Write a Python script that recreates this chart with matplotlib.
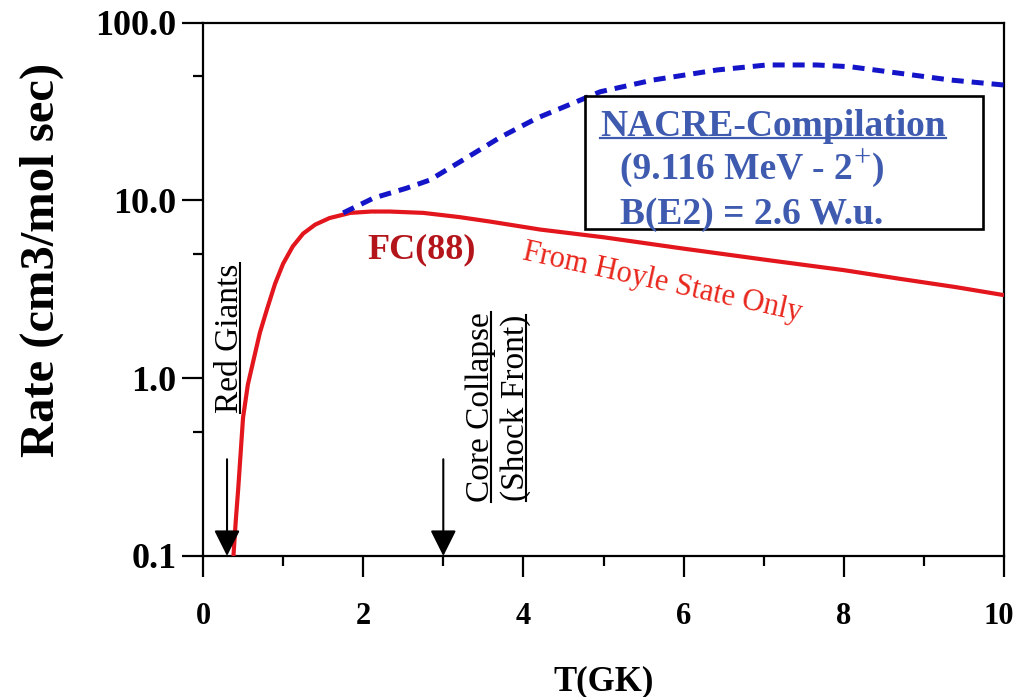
import matplotlib
matplotlib.use("Agg")
import matplotlib.pyplot as plt
import matplotlib.transforms as mtransforms
from matplotlib.patches import Rectangle
from matplotlib.lines import Line2D

plt.rcParams["font.family"] = ["Liberation Serif", "DejaVu Serif"]

# Triple-alpha reaction rate vs temperature
T_fc88 = [0.38, 0.41, 0.44, 0.47, 0.50, 0.56, 0.63, 0.71, 0.80, 0.90, 1.00, 1.12,
          1.25, 1.40, 1.58, 1.84, 2.10, 2.33, 2.75, 3.20, 3.58, 4.21, 5.00, 6.00,
          7.04, 8.00, 8.70, 9.40, 10.0]
rate_fc88 = [0.10, 0.16, 0.24, 0.38, 0.60, 0.92, 1.26, 1.80, 2.45, 3.40, 4.40, 5.50,
             6.50, 7.30, 7.95, 8.50, 8.65, 8.65, 8.50, 8.05, 7.60, 6.85, 6.20, 5.35,
             4.62, 4.05, 3.62, 3.25, 2.93]

T_nacre = [1.75, 2.13, 2.54, 2.83, 3.25, 3.71, 4.17, 4.71, 4.96, 5.62, 6.42, 7.04,
           7.66, 8.08, 8.70, 9.33, 10.0]
rate_nacre = [8.5, 10.3, 11.7, 13.0, 16.9, 22.6, 29.0, 36.6, 40.8, 47.5, 54.1, 57.7,
              57.7, 56.4, 51.8, 47.5, 44.5]

x_ticks = [0, 2, 4, 6, 8, 10]
x_minor = [1, 3, 5, 7, 9]
y_ticks = [0.1, 1.0, 10.0, 100.0]
y_tick_labels = ["0.1", "1.0", "10.0", "100.0"]
y_minor = [0.5, 5, 50]

T_red_giants = 0.3
T_core_collapse = 3.0
arrow_top = 0.35

W, H = 1016, 697
fig = plt.figure(figsize=(W / 100, H / 100), dpi=100)
ax = fig.add_axes([203 / W, 1 - 556 / H, 801 / W, 533.5 / H])


def px(x, y):
    """Figure-pixel position (origin top-left) to figure fraction."""
    return x / W, 1 - y / H


ax.set_yscale("log")
ax.set_xlim(0, 10)
ax.set_ylim(0.1, 100)

ax.plot(T_fc88, rate_fc88, color="#e3161d", lw=3.0, solid_capstyle="butt", zorder=3)
ax.plot(T_nacre, rate_nacre, color="#1414c8", lw=3.6, dashes=(2.4, 1.6),
        dash_capstyle="butt", zorder=4)

for s in ax.spines.values():
    s.set_linewidth(1.6)
ax.set_xticks(x_ticks)
ax.set_xticks(x_minor, minor=True)
ax.set_yticks(y_ticks)
ax.set_yticklabels(y_tick_labels)
ax.set_yticks(y_minor, minor=True)
ax.yaxis.set_minor_formatter(plt.NullFormatter())
ax.tick_params(which="major", direction="out", length=15, width=1.6)
ax.tick_params(which="minor", direction="out", length=7, width=1.6)
ax.tick_params(axis="y", which="major", pad=4)
ax.tick_params(axis="x", which="major", pad=18)
for lab in ax.get_yticklabels():
    lab.set_fontsize(26)
    lab.set_fontweight("bold")
for lab in ax.get_xticklabels():
    lab.set_fontsize(22)
    lab.set_fontweight("bold")
# keep the last x label inside the figure edge
last = ax.get_xticklabels()[-1]
last.set_transform(last.get_transform() +
                   mtransforms.ScaledTranslation(-5 / 100, 0, fig.dpi_scale_trans))

ax.set_xlabel("T(GK)", fontsize=25, fontweight="bold")
ax.xaxis.set_label_coords(0.5, -0.204)
ax.set_ylabel("Rate (cm3/mol sec)", fontsize=35, fontweight="bold")
ax.yaxis.set_label_coords(-0.1735, 0.555)

# Markers for the astrophysical sites
for t in (T_red_giants, T_core_collapse):
    ax.annotate("", xy=(t, 0.1), xytext=(t, arrow_top),
                arrowprops=dict(arrowstyle="-|>,head_length=0.8,head_width=0.4",
                                mutation_scale=20, color="black", lw=1.5,
                                shrinkA=0, shrinkB=0),
                zorder=5)

site_labels = []
site_labels.append(fig.text(*px(238, 338), "Red Giants", fontsize=24, rotation=90,
                            rotation_mode="anchor", ha="center", va="baseline"))
site_labels.append(fig.text(*px(489, 407), "Core Collapse", fontsize=24, rotation=90,
                            rotation_mode="anchor", ha="center", va="baseline"))
site_labels.append(fig.text(*px(524, 408), "(Shock Front)", fontsize=24, rotation=90,
                            rotation_mode="anchor", ha="center", va="baseline"))

fig.text(*px(422, 250), "FC(88)", fontsize=26, fontweight="bold", color="#b3151b",
         ha="center", va="center")
fig.text(*px(662, 283), "From Hoyle State Only", fontsize=22, color="#e8261c",
         rotation=-12.5, rotation_mode="anchor", ha="center", va="center")

# NACRE box
fig.add_artist(Rectangle(px(585, 229), 398 / W, 133.3 / H, transform=fig.transFigure,
                         facecolor="white", edgecolor="black", lw=1.9, zorder=6))
box_color = "#3f5bb0"
nacre_title = fig.text(*px(600, 136), "NACRE-Compilation", fontsize=27, fontweight="bold",
                       color=box_color, ha="left", va="baseline", zorder=7)
state_text = fig.text(*px(620, 179), "(9.116 MeV - 2", fontsize=27, fontweight="bold",
                      color=box_color, ha="left", va="baseline", zorder=7)
fig.text(*px(620, 224), "B(E2) = 2.6 W.u.", fontsize=27, fontweight="bold",
         color=box_color, ha="left", va="baseline", zorder=7)

# Superscript parity sign, closing paren and underlines from rendered extents
fig.canvas.draw()
bb = state_text.get_window_extent()
plus = fig.text((bb.x1 + 1) / W, (H - 179 + 13) / H, "+", fontsize=22,
                color=box_color, ha="left", va="baseline", zorder=7)
fig.canvas.draw()
pb = plus.get_window_extent()
fig.text((pb.x1 + 1) / W, (H - 179) / H, ")", fontsize=27, fontweight="bold",
         color=box_color, ha="left", va="baseline", zorder=7)

bb = nacre_title.get_window_extent()
yb = H - 136 - 2
fig.add_artist(Line2D([bb.x0 / W, bb.x1 / W], [yb / H, yb / H], transform=fig.transFigure,
                      color=box_color, lw=1.6, zorder=8))
for t in site_labels:
    bb = t.get_window_extent()
    xb = t.get_position()[0] * W + 2
    fig.add_artist(Line2D([xb / W, xb / W], [bb.y0 / H, bb.y1 / H],
                          transform=fig.transFigure, color="black", lw=1.5))

fig.savefig("out.png", dpi=100)
